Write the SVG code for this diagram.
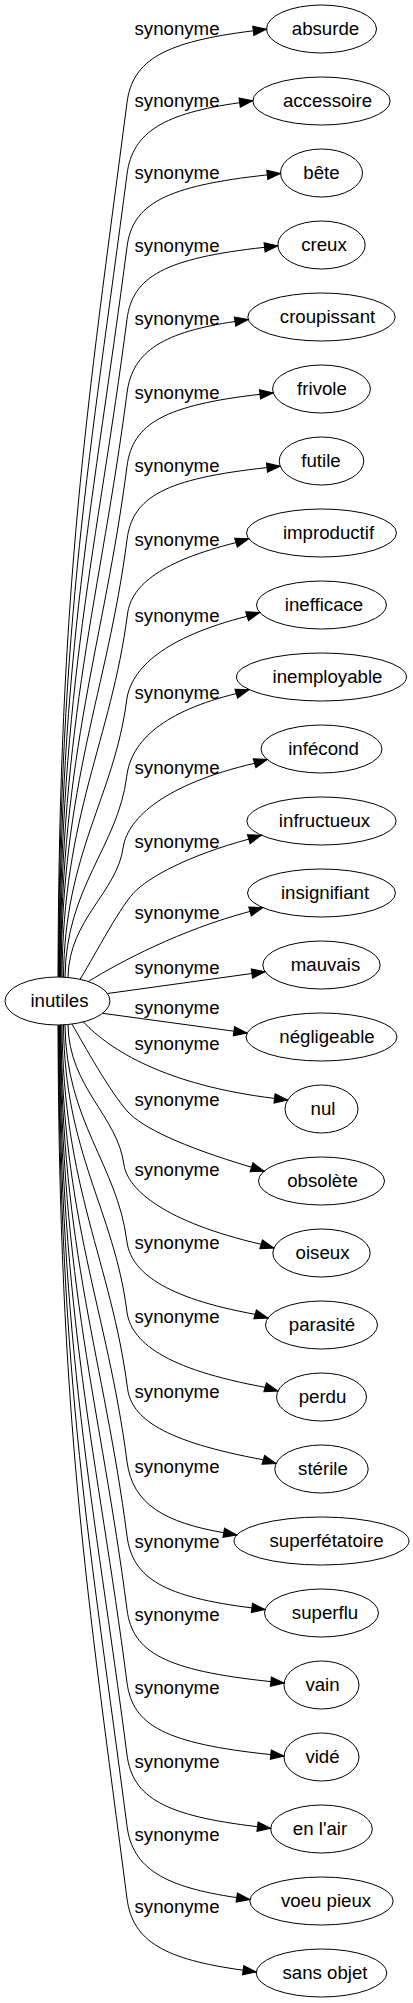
<svg xmlns="http://www.w3.org/2000/svg" width="413" height="2003" viewBox="0 0 413 2003">
<style>
.n ellipse{fill:none;stroke:#000;stroke-width:1}
.n text,.e text{font-family:"Liberation Sans",Arial,sans-serif;font-size:18.67px;fill:#000;text-anchor:middle}
.e path{fill:none;stroke:#000;stroke-width:1;marker-end:url(#ah)}
</style>
<defs>
<marker id="ah" viewBox="0 0 14 10" refX="13.3" refY="5" markerWidth="14" markerHeight="10" markerUnits="userSpaceOnUse" orient="auto" overflow="visible">
<path d="M0,0.33 L13.3,5 L0,9.67 Z" fill="#000" stroke="#000" stroke-width="1"/>
</marker>
</defs>
<rect width="413" height="2003" fill="#fff"/>
<g id="edges">
<g class="e" id="e-absurde"><path d="M58,977 C59,583.6 87.2,408.7 127,102.7 C132.5,59.7 165,41.7 253.3,30.8 L266.5,29.2"/><text x="177" y="35">synonyme</text></g>
<g class="e" id="e-accessoire"><path d="M58.5,977 C59.5,615.8 90.5,455.2 127,174.3 C132.5,131.3 165,113.3 239.6,102.7 L252.8,100.8"/><text x="177" y="106.6">synonyme</text></g>
<g class="e" id="e-bete"><path d="M59,977 C60,648.5 93.8,502.5 127,247 C132.5,204 165,186 267.3,174.9 L280.5,173.5"/><text x="177" y="179.3">synonyme</text></g>
<g class="e" id="e-creux"><path d="M59.5,977 C60.5,681 97.1,549.5 127,319.3 C132.5,276.3 165,258.3 264.6,247.3 L277.8,245.8"/><text x="177" y="251.6">synonyme</text></g>
<g class="e" id="e-croupissant"><path d="M60,977 C61,714.2 100.4,597.4 127,393 C132.5,350 165,332 235,321.5 L248.2,319.5"/><text x="177" y="325.3">synonyme</text></g>
<g class="e" id="e-frivole"><path d="M60.5,977 C61.5,747.2 103.8,645 127,466.3 C132.5,423.3 165,405.3 260,394.3 L273.2,392.8"/><text x="177" y="398.6">synonyme</text></g>
<g class="e" id="e-futile"><path d="M61,977 C62,780.2 107.1,692.7 127,539.7 C132.5,496.7 165,478.7 267,467.6 L280.2,466.2"/><text x="177" y="472">synonyme</text></g>
<g class="e" id="e-improductif"><path d="M62,977 C63,813.7 111,741 127.5,614 C131.5,584 163,561 236,542.6 L248.7,538.8"/><text x="177" y="546">synonyme</text></g>
<g class="e" id="e-inefficace"><path d="M63.5,977 C64.5,852.3 114.1,797 126.7,700 C131,668 165,637 247.1,616.3 L259.8,612.5"/><text x="177" y="621.6">synonyme</text></g>
<g class="e" id="e-inemployable"><path d="M65,977.2 C66,887 117.6,846.9 126.7,776.7 C131,740 165,711 236.3,693.6 L249,689.8"/><text x="177" y="699.3">synonyme</text></g>
<g class="e" id="e-infecond"><path d="M68,977.5 C69,918.6 117.3,892.5 123.3,846.7 C128,818 165,784 254.6,763.3 L267.3,759.5"/><text x="177" y="774.3">synonyme</text></g>
<g class="e" id="e-infructueux"><path d="M80,979.3 C90,964 118,910 133.3,893.3 C148.3,876.8 190,855 248.8,839.1 L261.5,835.3"/><text x="177" y="847.6">synonyme</text></g>
<g class="e" id="e-insignifiant"><path d="M88.3,981.5 C120,962 180,930 250.1,911.4 L262.8,907.6"/><text x="177" y="918.6">synonyme</text></g>
<g class="e" id="e-mauvais"><path d="M107.5,993.5 L251.9,973.5 L265.1,971.7"/><text x="177" y="974.3">synonyme</text></g>
<g class="e" id="e-negligeable"><path d="M102.6,1013.3 L233.9,1031.2 L247.1,1033"/><text x="177" y="1013.6">synonyme</text></g>
<g class="e" id="e-nul"><path d="M83.3,1021.9 C110,1050 165,1085 274.5,1098.4 L287.7,1100"/><text x="177" y="1050">synonyme</text></g>
<g class="e" id="e-obsolete"><path d="M72,1024.1 C84,1045 110,1092 128,1112 C142,1127 180,1146 251.5,1167.2 L264.2,1171.2"/><text x="177" y="1106">synonyme</text></g>
<g class="e" id="e-oiseux"><path d="M68,1024.5 C69,1087.7 117.6,1115.8 124,1165 C128,1190 165,1222 261.1,1244.3 L273.9,1248"/><text x="177" y="1176">synonyme</text></g>
<g class="e" id="e-parasite"><path d="M65,1024.8 C66,1121.6 116.9,1164.7 126.7,1240 C130,1272 165,1298 255.1,1314.3 L267.9,1318"/><text x="177" y="1249.3">synonyme</text></g>
<g class="e" id="e-perdu"><path d="M63.5,1025 C64.5,1153.3 113.7,1210.2 126.7,1310 C130,1342 165,1369 265.1,1387.3 L277.9,1391"/><text x="177" y="1322.6">synonyme</text></g>
<g class="e" id="e-sterile"><path d="M62,1025 C63,1188.5 111,1261.1 127.5,1388.3 C131.5,1418.3 163,1441.3 263.4,1459.8 L276.1,1463.5"/><text x="177" y="1397.6">synonyme</text></g>
<g class="e" id="e-superfetatoire"><path d="M61,1025 C62,1221.4 107.1,1308.7 127,1461.5 C132.5,1504.5 165,1522.5 223.7,1532.7 L236.8,1535"/><text x="177" y="1472.6">synonyme</text></g>
<g class="e" id="e-superflu"><path d="M60.5,1025 C61.5,1255 103.7,1357.1 127,1536 C132.5,1579 165,1597 251.9,1607.9 L265.1,1609.5"/><text x="177" y="1548.3">synonyme</text></g>
<g class="e" id="e-vain"><path d="M60,1025 C61,1288 100.4,1404.9 127,1609.5 C132.5,1652.5 165,1670.5 270.9,1681.6 L284.1,1683"/><text x="177" y="1621">synonyme</text></g>
<g class="e" id="e-vide"><path d="M59.5,1025 C60.5,1320.9 97.1,1452.4 127,1682.5 C132.5,1725.5 165,1743.5 270.8,1754.6 L284,1756"/><text x="177" y="1694.3">synonyme</text></g>
<g class="e" id="e-enlair"><path d="M59,1025 C60,1353.4 93.8,1499.4 127,1754.8 C132.5,1797.8 165,1815.8 257.5,1826.7 L270.7,1828.3"/><text x="177" y="1767.6">synonyme</text></g>
<g class="e" id="e-voeupieux"><path d="M58.5,1025 C59.5,1385.5 90.6,1545.6 127,1826 C132.5,1869 165,1887 236.7,1897.6 L249.9,1899.5"/><text x="177" y="1841">synonyme</text></g>
<g class="e" id="e-sansobjet"><path d="M58,1025 C59,1418.1 87.3,1592.8 127,1898.5 C132.5,1941.5 165,1959.5 243.1,1970.2 L256.3,1972"/><text x="177" y="1912.6">synonyme</text></g>
</g>
<g id="nodes">
<g class="n" id="n-inutiles"><ellipse cx="57.5" cy="1001" rx="52.5" ry="24"/><text x="59.5" y="1006.6">inutiles</text></g>
<g class="n" id="n-absurde"><ellipse cx="321.5" cy="29" rx="55" ry="24"/><text x="325.5" y="34.6">absurde</text></g>
<g class="n" id="n-accessoire"><ellipse cx="321.5" cy="101" rx="68.7" ry="24"/><text x="327.5" y="106.6">accessoire</text></g>
<g class="n" id="n-bete"><ellipse cx="321.5" cy="173" rx="41" ry="24"/><text x="321.5" y="178.6">bête</text></g>
<g class="n" id="n-creux"><ellipse cx="321.5" cy="245" rx="43.7" ry="24"/><text x="324" y="250.6">creux</text></g>
<g class="n" id="n-croupissant"><ellipse cx="321.5" cy="317" rx="73.7" ry="24"/><text x="327.5" y="322.6">croupissant</text></g>
<g class="n" id="n-frivole"><ellipse cx="321.5" cy="389" rx="48.9" ry="24"/><text x="322" y="394.6">frivole</text></g>
<g class="n" id="n-futile"><ellipse cx="321.5" cy="461" rx="42.3" ry="24"/><text x="321" y="466.6">futile</text></g>
<g class="n" id="n-improductif"><ellipse cx="321.5" cy="533" rx="75" ry="24"/><text x="328.5" y="538.6">improductif</text></g>
<g class="n" id="n-inefficace"><ellipse cx="321.5" cy="605" rx="65" ry="24"/><text x="324" y="610.6">inefficace</text></g>
<g class="n" id="n-inemployable"><ellipse cx="321.5" cy="677" rx="85" ry="24"/><text x="327.5" y="682.6">inemployable</text></g>
<g class="n" id="n-infecond"><ellipse cx="321.5" cy="749" rx="60.5" ry="24"/><text x="323.5" y="754.6">infécond</text></g>
<g class="n" id="n-infructueux"><ellipse cx="321.5" cy="821" rx="74.7" ry="24"/><text x="324.5" y="826.6">infructueux</text></g>
<g class="n" id="n-insignifiant"><ellipse cx="321.5" cy="893" rx="74" ry="24"/><text x="325" y="898.6">insignifiant</text></g>
<g class="n" id="n-mauvais"><ellipse cx="321.5" cy="965" rx="58.7" ry="24"/><text x="325.5" y="970.6">mauvais</text></g>
<g class="n" id="n-negligeable"><ellipse cx="321.5" cy="1037" rx="75.5" ry="24"/><text x="327" y="1042.6">négligeable</text></g>
<g class="n" id="n-nul"><ellipse cx="321.5" cy="1109" rx="36.5" ry="24"/><text x="323" y="1114.6">nul</text></g>
<g class="n" id="n-obsolete"><ellipse cx="321.5" cy="1181" rx="63" ry="24"/><text x="322.5" y="1186.6">obsolète</text></g>
<g class="n" id="n-oiseux"><ellipse cx="321.5" cy="1253" rx="48.7" ry="24"/><text x="322.5" y="1258.6">oiseux</text></g>
<g class="n" id="n-parasite"><ellipse cx="321.5" cy="1325" rx="56" ry="24"/><text x="322" y="1330.6">parasité</text></g>
<g class="n" id="n-perdu"><ellipse cx="321.5" cy="1397" rx="45" ry="24"/><text x="322.5" y="1402.6">perdu</text></g>
<g class="n" id="n-sterile"><ellipse cx="321.5" cy="1469" rx="46.7" ry="24"/><text x="323" y="1474.6">stérile</text></g>
<g class="n" id="n-superfetatoire"><ellipse cx="321.5" cy="1541" rx="87.5" ry="24"/><text x="326.5" y="1546.6">superfétatoire</text></g>
<g class="n" id="n-superflu"><ellipse cx="321.5" cy="1613" rx="57" ry="24"/><text x="325" y="1618.6">superflu</text></g>
<g class="n" id="n-vain"><ellipse cx="321.5" cy="1685" rx="37.5" ry="24"/><text x="322.5" y="1690.6">vain</text></g>
<g class="n" id="n-vide"><ellipse cx="321.5" cy="1757" rx="37.5" ry="24"/><text x="322.5" y="1762.6">vidé</text></g>
<g class="n" id="n-enlair"><ellipse cx="321.5" cy="1829" rx="50.8" ry="24"/><text x="320" y="1834.6">en l'air</text></g>
<g class="n" id="n-voeupieux"><ellipse cx="321.5" cy="1901" rx="71.7" ry="24"/><text x="326" y="1906.6">voeu pieux</text></g>
<g class="n" id="n-sansobjet"><ellipse cx="321.5" cy="1973" rx="65.3" ry="24"/><text x="325" y="1978.6">sans objet</text></g>
</g>
</svg>
